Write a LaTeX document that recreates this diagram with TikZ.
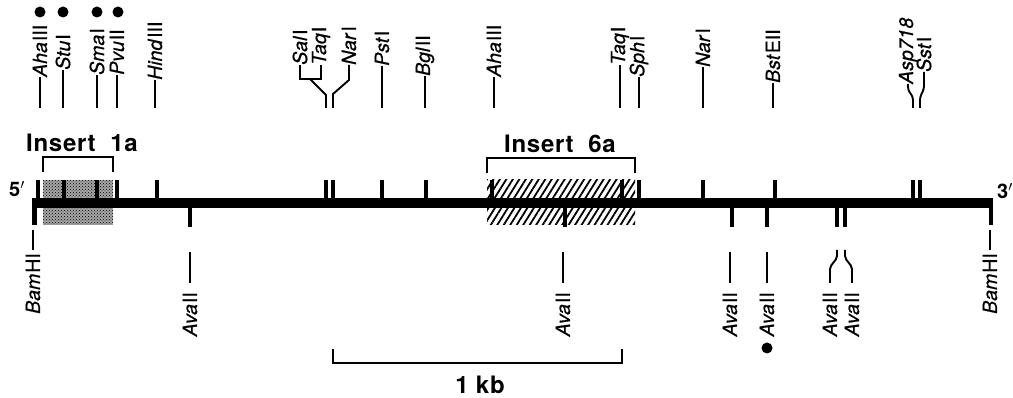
\documentclass[tikz,border=0pt]{standalone}
\usepackage{fontspec}
\setmainfont{TeX Gyre Heros}
\newfontfamily\labfont[FakeBold=0.6]{TeX Gyre Heros}
\usetikzlibrary{patterns,patterns.meta}
\newcommand\enz[2]{\textit{#1}\kern1pt #2}
\begin{document}
\begin{tikzpicture}[x=1pt,y=-1pt,
  lab/.style={rotate=90,inner sep=0pt,font=\labfont\fontsize{19.5}{19.5}\selectfont},
  lline/.style={line width=1.9pt},
  tick/.style={line width=3.5pt},
  brk/.style={line width=2.2pt},
  big/.style={inner sep=0pt,font=\fontsize{24}{24}\selectfont\bfseries\addfontfeature{LetterSpace=3}},
  endlab/.style={inner sep=0pt,font=\fontsize{20}{20}\selectfont\bfseries},
  dotn/.style={circle,fill=black,inner sep=0pt,minimum size=11pt}]
\useasboundingbox (0,0) rectangle (1013,398);
% --- inserts (boxes) ---
\path[fill=black!35] (43,180) rectangle (113,225);
\path[pattern=crosshatch dots,pattern color=black] (43,180) rectangle (113,225);
\path[pattern={Lines[angle=58,distance=5.5pt,line width=1.8pt]}] (487,180) rectangle (635,225);
% --- main line ---
\coordinate (L) at (32,203);
\coordinate (R) at (992,203);
\draw[line width=10pt] (L) -- (R);
\coordinate (Lb) at (34.5,225); \coordinate (Lt) at (34.5,198);
\coordinate (Rb) at (990.5,225); \coordinate (Rt) at (990.5,198);
\draw[line width=5pt] (Lt) -- (Lb);
\draw[line width=4pt] (Rt) -- (Rb);
% top ticks
\foreach \x in {38,64,97,117,157,326,333,382,426,492,622,639,703,775,913,920}
  \draw[tick] (\x,180) -- (\x,199);
% bottom ticks
\foreach \x in {190,565,732,767,837,845}
  \draw[tick] (\x,207) -- (\x,227);
% end labels
\node[endlab] (p5) at (17,189) {5$'$};
\node[endlab] (p3) at (1005,191) {3$'$};
% --- insert brackets ---
\node[big] (ins1) at (82,143) {Insert\ \ 1a};
\node[big] (ins6) at (560,144) {Insert\ \ 6a};
\coordinate (b1a) at (43,172); \coordinate (b1b) at (113,172);
\draw[brk] (b1a) |- (78,157) -| (b1b);
\coordinate (b6a) at (487,173); \coordinate (b6b) at (635,173);
\draw[brk] (b6a) |- (560,158) -| (b6b);
% --- top labels ---
\newcommand\toplab[4]{%
  \node[lab,anchor=west] (#3) at (#1,#2) {#4};
  \coordinate (#3b) at (#1,108);
  \draw[lline] (#3b) -- (#3.west);}
\toplab{40}{77}{ahaA}{\enz{Aha}{III}}
\toplab{63}{70}{stu}{\enz{Stu}{I}}
\toplab{97}{75}{sma}{\enz{Sma}{I}}
\toplab{117}{75}{pvu}{\enz{Pvu}{II}}
\toplab{155}{80}{hind}{\enz{Hind}{III}}
\toplab{382}{66}{pst}{\enz{Pst}{I}}
\toplab{425}{76}{bgl}{\enz{Bgl}{II}}
\toplab{494}{77}{ahaB}{\enz{Aha}{III}}
\toplab{620}{65}{taqB}{\enz{Taq}{I}}
\toplab{639}{77}{sph}{\enz{Sph}{I}}
\toplab{703}{67}{narB}{\enz{Nar}{I}}
\toplab{773}{83}{bst}{\enz{Bst}{EII}}
\node[dotn] (dA) at (40,12) {};
\node[dotn] (dS) at (63,12) {};
\node[dotn] (dM) at (97,12) {};
\node[dotn] (dP) at (118,12) {};
% bracketed top labels
\node[lab,anchor=west] (sal) at (300,65) {\enz{Sal}{I}};
\node[lab,anchor=west] (taqA) at (321,65) {\enz{Taq}{I}};
\node[lab,anchor=west] (narA) at (349,65) {\enz{Nar}{I}};
\coordinate (salb) at (326,108);
\coordinate (narAb) at (333,108);
\draw[lline] (sal.west) -- (300,79) -- (321,79) -- (taqA.west);
\draw[lline] (310,79) -- (326,95) -- (salb);
\draw[lline] (narA.west) -- (349,80) -- (333,94) -- (narAb);
\node[lab,anchor=west] (asp) at (908,84) {\textit{Asp718}};
\node[lab,anchor=west] (sst) at (924,72) {\enz{Sst}{I}};
\coordinate (aspb) at (913,108);
\coordinate (sstb) at (920,108);
\draw[lline,rounded corners=3pt] (asp.west) -- (908,90) -- (913,97) -- (aspb);
\draw[lline,rounded corners=3pt] (sst.west) -- (924,89) -- (920,97) -- (sstb);
% --- bottom labels ---
\newcommand\botlab[6]{% x, line top, line bottom, text top, name, text
  \node[lab,anchor=east] (#5) at (#1,#4) {#6};
  \coordinate (#5t) at (#1,#2);
  \coordinate (#5e) at (#1,#3);
  \draw[lline] (#5t) -- (#5e);}
\botlab{33}{230}{250}{253}{bamL}{\enz{Bam}{HI}}
\botlab{990}{230}{250}{253}{bamR}{\enz{Bam}{HI}}
\botlab{190}{252}{283}{292}{avaA}{\enz{Ava}{II}}
\botlab{563}{252}{283}{292}{avaB}{\enz{Ava}{II}}
\botlab{730}{252}{283}{292}{avaC}{\enz{Ava}{II}}
\botlab{767}{252}{283}{292}{avaD}{\enz{Ava}{II}}
\node[dotn] (dD) at (767,348) {};
\node[lab,anchor=east] (avaE) at (830,292) {\enz{Ava}{II}};
\node[lab,anchor=east] (avaF) at (852,292) {\enz{Ava}{II}};
\coordinate (avaEt) at (837,250);
\coordinate (avaFt) at (845,250);
\draw[lline,rounded corners=2pt] (avaEt) -- (837,258) -- (830,267) -- (830,283);
\draw[lline,rounded corners=2pt] (avaFt) -- (845,258) -- (852,267) -- (852,283);
% --- scale bar ---
\coordinate (s1) at (333,349); \coordinate (s2) at (622,349);
\draw[brk] (s1) |- (480,363) -| (s2);
\node[big] (kb) at (480,385) {1 kb};
\end{tikzpicture}
\end{document}
